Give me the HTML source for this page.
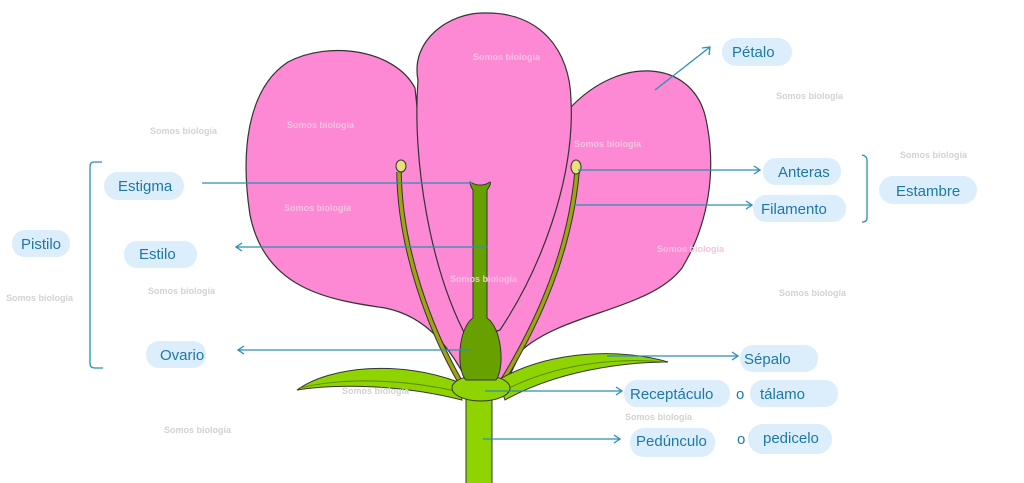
<!DOCTYPE html>
<html><head><meta charset="utf-8"><style>
html,body{margin:0;padding:0;background:#fff;}
svg{display:block}
.p{fill:#dcedfb}
.t{font-family:"Liberation Sans",sans-serif;font-size:15px;fill:#1d78a8}
.w{font-family:"Liberation Sans",sans-serif;font-size:9px;font-weight:bold;fill:#d2d2d2}
.ww{font-family:"Liberation Sans",sans-serif;font-size:9px;font-weight:bold;fill:#f4c4e4}
.l{stroke:#2b8fb5;stroke-width:1.3;fill:none}
</style></head><body>
<svg width="1024" height="483" viewBox="0 0 1024 483">
<!-- petals -->
<path d="M415,88 C395,50 330,40 288,62 C248,88 240,150 250,215 C265,290 330,300 385,308 C435,318 455,360 470,385 L500,385 C475,300 430,250 415,88 Z" fill="#fd88d3" stroke="#333" stroke-width="1.2"/>
<path d="M570,108 C620,55 690,60 705,115 C718,170 708,225 682,268 C650,310 565,312 522,350 L505,385 L470,385 C500,320 560,230 570,108 Z" fill="#fd88d3" stroke="#333" stroke-width="1.2"/>
<path d="M418,80 C410,40 450,12 485,13 C540,12 570,50 571,100 C575,180 540,270 500,330 L468,340 C430,270 412,160 418,80 Z" fill="#fd88d3" stroke="#333" stroke-width="1.2"/>
<!-- stamens -->
<path d="M399,172 C400,250 430,330 462,385" stroke="#333" stroke-width="5.5" fill="none"/>
<path d="M399,172 C400,250 430,330 462,385" stroke="#9ea50e" stroke-width="3.5" fill="none"/>
<path d="M577,172 C570,250 540,320 500,385" stroke="#333" stroke-width="5.5" fill="none"/>
<path d="M577,172 C570,250 540,320 500,385" stroke="#9ea50e" stroke-width="3.5" fill="none"/>
<ellipse cx="401" cy="166" rx="5" ry="6" fill="#e8e07a" stroke="#333" stroke-width="1"/>
<ellipse cx="576" cy="167" rx="5" ry="7" fill="#e8e07a" stroke="#333" stroke-width="1"/>
<!-- sepals -->
<path d="M458,382 C400,360 330,366 297,390 C335,384 400,384 462,400 Z" fill="#8fd400" stroke="#333" stroke-width="1"/>
<path d="M300,388 C340,378 400,378 460,392" stroke="#5a8a00" stroke-width="1" fill="none"/>
<path d="M498,380 C550,350 620,348 668,362 C620,362 555,372 505,400 Z" fill="#8fd400" stroke="#333" stroke-width="1"/>
<path d="M505,390 C560,362 620,358 665,362" stroke="#5a8a00" stroke-width="1" fill="none"/>
<!-- stem -->
<rect x="466" y="395" width="26" height="90" fill="#8fd400" stroke="#333" stroke-width="1"/>
<ellipse cx="481" cy="388" rx="29" ry="13" fill="#8fd400" stroke="#333" stroke-width="1"/>
<!-- pistil -->
<path d="M473,190 L473,318 C458,328 456,370 466,380 L496,380 C505,368 502,328 487,318 L487,190 C490,186 491,183 490,182 C484,186 477,186 470,182 C470,184 471,187 473,190 Z" fill="#68a000" stroke="#333" stroke-width="1"/>
<!-- watermarks -->
<text class="ww" x="473" y="60">Somos biología</text>
<text class="ww" x="287" y="128">Somos biología</text>
<text class="ww" x="574" y="147">Somos biología</text>
<text class="ww" x="284" y="211">Somos biología</text>
<text class="ww" x="450" y="282">Somos biología</text>
<text class="ww" x="657" y="252">Somos biología</text>
<text class="w" x="776" y="99">Somos biología</text>
<text class="w" x="150" y="134">Somos biología</text>
<text class="w" x="900" y="158">Somos biología</text>
<text class="w" x="6" y="301">Somos biología</text>
<text class="w" x="148" y="294">Somos biología</text>
<text class="w" x="779" y="296">Somos biología</text>
<text class="w" x="342" y="394">Somos biología</text>
<text class="w" x="625" y="420">Somos biología</text>
<text class="w" x="164" y="433">Somos biología</text>
<!-- lines -->
<g class="l">
<path d="M202,183 L472,183"/>
<path d="M487,247 L236,247 M242,243 L236,247 L242,251"/>
<path d="M470,350 L238,350 M244,346 L238,350 L244,354"/>
<path d="M578,170 L760,170 M754,166 L760,170 L754,174"/>
<path d="M574,205 L752,205 M746,201 L752,205 L746,209"/>
<path d="M607,356 L738,356 M732,352 L738,356 L732,360"/>
<path d="M485,391 L622,391 M616,387 L622,391 L616,395"/>
<path d="M483,439 L620,439 M614,435 L620,439 L614,443"/>
<path d="M655,90 L710,47 M702,48 L710,47 L709,55"/>
<path d="M102,162 L94,162 Q90,162 90,167 L90,363 Q90,368 95,368 L103,368"/>
<path d="M862,155 Q867,156 867,160 L867,218 Q867,222 862,222"/>
</g>
<!-- pills -->
<rect class="p" x="722" y="38" width="70" height="28" rx="14"/><text class="t" x="732" y="57">Pétalo</text>
<rect class="p" x="763" y="158" width="78" height="27" rx="13"/><text class="t" x="778" y="177">Anteras</text>
<rect class="p" x="753" y="195" width="93" height="27" rx="13"/><text class="t" x="761" y="214">Filamento</text>
<rect class="p" x="879" y="176" width="98" height="28" rx="14"/><text class="t" x="896" y="196">Estambre</text>
<rect class="p" x="104" y="172" width="80" height="28" rx="14"/><text class="t" x="118" y="191">Estigma</text>
<rect class="p" x="12" y="230" width="58" height="27" rx="13"/><text class="t" x="21" y="249">Pistilo</text>
<rect class="p" x="124" y="241" width="73" height="27" rx="13"/><text class="t" x="139" y="259">Estilo</text>
<rect class="p" x="146" y="341" width="60" height="27" rx="13"/><text class="t" x="160" y="360">Ovario</text>
<rect class="p" x="740" y="345" width="78" height="27" rx="13"/><text class="t" x="744" y="364">Sépalo</text>
<rect class="p" x="624" y="380" width="106" height="27" rx="13"/><text class="t" x="630" y="399">Receptáculo</text>
<text class="t" x="736" y="399">o</text>
<rect class="p" x="750" y="380" width="88" height="27" rx="13"/><text class="t" x="760" y="399">tálamo</text>
<rect class="p" x="630" y="428" width="85" height="29" rx="14"/><text class="t" x="636" y="446">Pedúnculo</text>
<text class="t" x="737" y="444">o</text>
<rect class="p" x="748" y="424" width="84" height="30" rx="15"/><text class="t" x="763" y="443">pedicelo</text>
</svg>
</body></html>
